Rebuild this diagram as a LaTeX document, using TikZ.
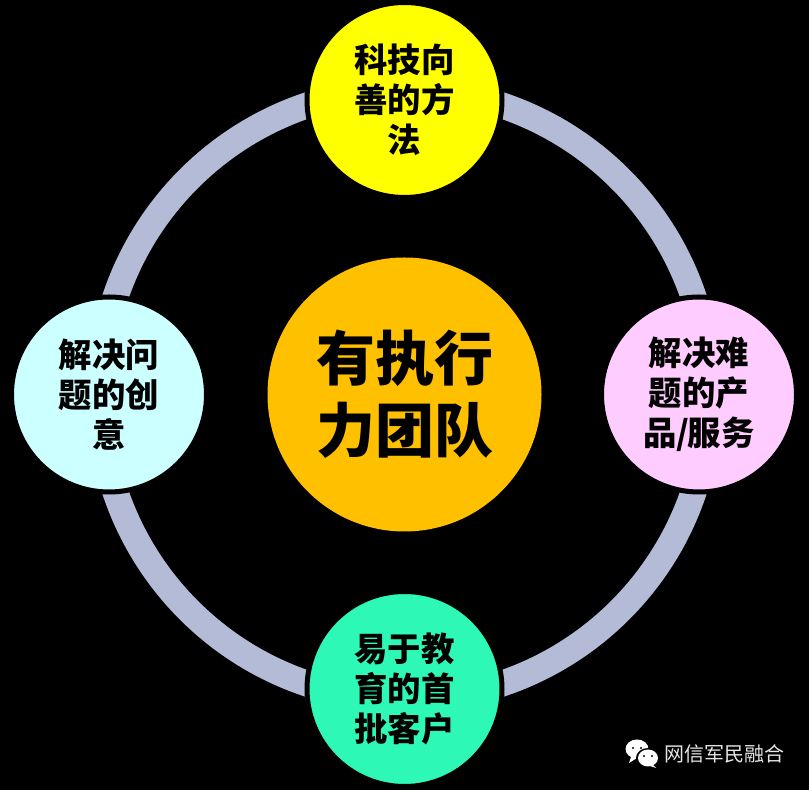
\documentclass[tikz,border=0pt]{standalone}
\usepackage{xcolor}
\usepackage{fontspec}
\usetikzlibrary{positioning}
\newfontfamily\cjk{Noto Sans CJK SC}
\definecolor{ringc}{HTML}{B4BBD6}
\definecolor{hubc}{HTML}{FFC000}
\definecolor{topc}{HTML}{FFFF00}
\definecolor{rightc}{HTML}{FFCCFF}
\definecolor{leftc}{HTML}{CCFFFF}
\definecolor{botc}{HTML}{2DF8B5}
\definecolor{markc}{HTML}{E6E6E6}

\begin{document}
\begin{tikzpicture}[
    x=1pt, y=1pt,
    font=\cjk\bfseries,
    hub/.style={
      circle, fill=hubc, inner sep=0pt, outer sep=0pt, align=center,
      minimum size=274pt, font=\cjk\bfseries\fontsize{59}{72}\selectfont},
    petal/.style={
      circle, draw=black, line width=5pt, inner sep=0pt, outer sep=0pt, align=center,
      minimum size=195pt, font=\cjk\bfseries\fontsize{33.4}{40}\selectfont},
    ringline/.style={
      circle, draw=ringc, line width=26pt, inner sep=0pt, outer sep=0pt,
      minimum size=610pt},
    bubble/.style={fill=white},
    eye/.style={fill=black}
  ]

  % --- background
  \fill[black] (0,0) rectangle (809,790);

  % --- centre
  \node[ringline] (ring) at (404.5,395.5) {};
  \node[hub] (team) at (ring.center) {有执行\\力团队};

  % --- outer circles
  \node[petal, above=60pt of team, fill=topc] (tech) {科技向\\善的方\\法};
  \node[petal, right=60pt of team, fill=rightc] (prod) {解决难\\题的产\\品/\kern-2pt 服务};
  \node[petal, below=60pt of team, fill=botc] (cust) {易于教\\育的首\\批客户};
  \node[petal, left=61pt of team, fill=leftc] (idea) {解决问\\题的创\\意};

  % --- watermark
  \fill[bubble] (631,33) -- (629,27) -- (637,32) -- cycle;
  \fill[bubble] (637,41) ellipse (11.5pt and 9.5pt);
  \fill[eye] (633,42) circle (1.2pt) (641,42) circle (1.2pt);
  \fill[black] (648,32) ellipse (12pt and 10pt);
  \fill[bubble] (653,25) -- (656,22) -- (650,24) -- cycle;
  \fill[bubble] (648,32) ellipse (10pt and 8.5pt);
  \fill[eye] (644,34) circle (1.1pt) (652,34) circle (1.1pt);
  \node[anchor=west, inner sep=0pt, text=markc, font=\cjk\fontsize{20}{22}\selectfont]
    (mark) at (664,36) {网信军民融合};

\end{tikzpicture}
\end{document}
